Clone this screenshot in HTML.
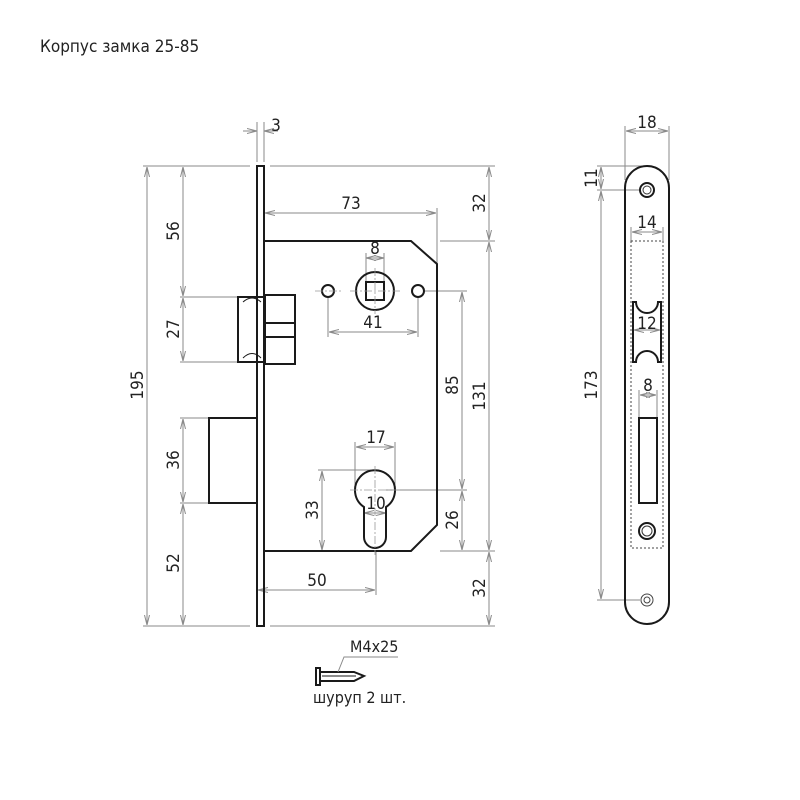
<!DOCTYPE html>
<html><head><meta charset="utf-8"><style>
html,body{margin:0;padding:0;background:#fff;}
svg{display:block;}
text{font-family:"DejaVu Sans Condensed","Liberation Sans",sans-serif;fill:#222;}
.d{stroke:#8a8a8a;stroke-width:1;fill:none;}
.o{stroke:#1a1a1a;stroke-width:2;fill:none;}
.c{stroke:#999;stroke-width:0.8;fill:none;stroke-dasharray:8 2 2 2;}
.t{font-size:17px;}
.m{text-anchor:middle;}
</style></head><body>
<svg width="800" height="800" viewBox="0 0 800 800" xmlns="http://www.w3.org/2000/svg">
<defs>
<marker id="a" viewBox="0 0 10 6" refX="10" refY="3" markerWidth="10" markerHeight="6" orient="auto-start-reverse" markerUnits="userSpaceOnUse"><path d="M0,0.5 L10,3 L0,5.5" fill="none" stroke="#8a8a8a" stroke-width="1"/></marker>
</defs>
<text x="40" y="52" style="font-size:17px">Корпус замка 25-85</text>

<g class="d">
<line x1="143" y1="166" x2="250" y2="166"/><line x1="270" y1="166" x2="495" y2="166"/>
<line x1="143" y1="626" x2="250" y2="626"/><line x1="270" y1="626" x2="495" y2="626"/>
<line x1="180" y1="297" x2="238" y2="297"/><line x1="180" y1="362" x2="238" y2="362"/>
<line x1="180" y1="418" x2="209" y2="418"/><line x1="180" y1="503" x2="209" y2="503"/>
<line x1="440" y1="241" x2="495" y2="241"/><line x1="440" y1="551" x2="495" y2="551"/>
<line x1="424" y1="291" x2="467" y2="291"/><line x1="386" y1="490" x2="467" y2="490"/>
<line x1="257" y1="122" x2="257" y2="162"/><line x1="264" y1="122" x2="264" y2="162"/>
<line x1="437" y1="208" x2="437" y2="264"/>
<line x1="366" y1="253" x2="366" y2="282"/><line x1="384" y1="253" x2="384" y2="282"/>
<line x1="328" y1="297" x2="328" y2="337"/><line x1="418" y1="297" x2="418" y2="337"/>
<line x1="355" y1="442" x2="355" y2="490"/><line x1="395" y1="442" x2="395" y2="490"/>
<line x1="318" y1="470" x2="375" y2="470"/><line x1="318" y1="551" x2="364" y2="551"/>
<line x1="376" y1="551" x2="376" y2="595"/>
<line x1="625" y1="126" x2="625" y2="180"/><line x1="669" y1="126" x2="669" y2="180"/>
<line x1="597" y1="166" x2="648" y2="166"/><line x1="597" y1="190" x2="640" y2="190"/><line x1="597" y1="600" x2="640" y2="600"/>
<line x1="631" y1="227" x2="631" y2="241"/><line x1="663" y1="227" x2="663" y2="241"/>
<line x1="639" y1="390" x2="639" y2="418"/><line x1="657" y1="390" x2="657" y2="418"/>
</g>
<g class="d" marker-start="url(#a)" marker-end="url(#a)">
<line x1="147" y1="167" x2="147" y2="625"/>
<line x1="183" y1="167" x2="183" y2="296"/><line x1="183" y1="298" x2="183" y2="361"/>
<line x1="183" y1="419" x2="183" y2="502"/><line x1="183" y1="504" x2="183" y2="625"/>
<line x1="489" y1="167" x2="489" y2="240"/><line x1="489" y1="242" x2="489" y2="550"/><line x1="489" y1="552" x2="489" y2="625"/>
<line x1="462" y1="292" x2="462" y2="489"/><line x1="462" y1="491" x2="462" y2="550"/>
<line x1="265" y1="213" x2="436" y2="213"/>
<line x1="366" y1="258" x2="384" y2="258"/>
<line x1="329" y1="332" x2="417" y2="332"/>
<line x1="356" y1="447" x2="394" y2="447"/>
<line x1="322" y1="471" x2="322" y2="550"/>
<line x1="364" y1="513" x2="386" y2="513"/>
<line x1="258" y1="590" x2="375" y2="590"/>
<line x1="626" y1="131" x2="668" y2="131"/>
<line x1="601" y1="167" x2="601" y2="189"/><line x1="601" y1="191" x2="601" y2="599"/>
<line x1="632" y1="232" x2="662" y2="232"/>
<line x1="634" y1="330" x2="660" y2="330"/>
<line x1="640" y1="395" x2="656" y2="395"/>
</g>
<g class="d" marker-end="url(#a)">
<line x1="243" y1="131" x2="257" y2="131"/><line x1="278" y1="131" x2="264" y2="131"/>
</g>

<g class="t m">
<text x="276" y="131">3</text>
<text x="351" y="209">73</text>
<text x="375" y="254">8</text>
<text x="373" y="328">41</text>
<text x="376" y="443">17</text>
<text x="376" y="509">10</text>
<text x="317" y="586">50</text>
<text transform="translate(143,385) rotate(-90)">195</text>
<text transform="translate(179,231) rotate(-90)">56</text>
<text transform="translate(179,329) rotate(-90)">27</text>
<text transform="translate(179,460) rotate(-90)">36</text>
<text transform="translate(179,563) rotate(-90)">52</text>
<text transform="translate(485,203) rotate(-90)">32</text>
<text transform="translate(485,396) rotate(-90)">131</text>
<text transform="translate(485,588) rotate(-90)">32</text>
<text transform="translate(458,385) rotate(-90)">85</text>
<text transform="translate(458,520) rotate(-90)">26</text>
<text transform="translate(318,510) rotate(-90)">33</text>
<text x="647" y="128">18</text>
<text transform="translate(597,178) rotate(-90)">11</text>
<text transform="translate(597,385) rotate(-90)">173</text>
<text x="647" y="228">14</text>
<text x="647" y="329">12</text>
<text x="648" y="391">8</text>
</g>

<rect x="257" y="166" width="7" height="460" class="o"/>
<path d="M264,241 L411,241 L437,264 L437,525 L411,551 L264,551" class="o"/>
<rect x="238" y="297" width="27" height="65" class="o"/>
<path d="M243,302 Q252,294 261,302 M243,358 Q252,349 261,358" stroke="#1a1a1a" stroke-width="1" fill="none"/>
<rect x="265" y="295" width="30" height="69" class="o" stroke-width="1.5"/>
<rect x="265" y="323" width="30" height="14" class="o"/>
<rect x="209" y="418" width="48" height="85" class="o"/>
<circle cx="375" cy="291" r="19" class="o"/>
<rect x="366" y="282" width="18" height="18" class="o"/>
<circle cx="328" cy="291" r="6" class="o"/>
<circle cx="418" cy="291" r="6" class="o"/>
<line x1="350" y1="291" x2="400" y2="291" class="c"/>
<line x1="375" y1="268" x2="375" y2="314" class="c"/>
<line x1="315" y1="291" x2="341" y2="291" class="c"/>
<path d="M364,507 A20,20 0 1 1 386,507 L386,537 A11,11 0 0 1 364,537 Z" class="o"/>
<line x1="375" y1="466" x2="375" y2="555" class="c"/>
<line x1="350" y1="490" x2="400" y2="490" class="c"/>

<rect x="625" y="166" width="44" height="458" rx="22" ry="22" class="o"/>
<rect x="631" y="241" width="32" height="307" fill="none" stroke="#444" stroke-width="1" stroke-dasharray="2 2"/>
<path d="M633,302 L636,302 A11,11 0 0 0 658,302 L661,302 L661,362 L658,362 A11,11 0 0 0 636,362 L633,362 Z" class="o" stroke-width="1.6"/>
<rect x="639" y="418" width="18" height="85" class="o" stroke-width="1.6"/>
<circle cx="647" cy="190" r="7" class="o" stroke-width="1.5"/><circle cx="647" cy="190" r="4" fill="none" stroke="#333" stroke-width="1"/>
<circle cx="647" cy="531" r="8" class="o" stroke-width="1.5"/><circle cx="647" cy="531" r="5" fill="none" stroke="#333" stroke-width="1"/>
<circle cx="647" cy="600" r="6" fill="none" stroke="#444" stroke-width="1"/><circle cx="647" cy="600" r="3" fill="none" stroke="#444" stroke-width="1"/>

<path d="M316,668 L316,685 L320,685 L320,668 Z M320,672 L354,672 L364,676 L354,681 L320,681" class="o" stroke-width="1.5"/>
<line x1="322" y1="676" x2="356" y2="676" stroke="#1a1a1a" stroke-width="1"/>
<polyline points="338,672 344,657 398,657" class="d"/>
<text x="350" y="652" style="font-size:16px">M4x25</text>
<text x="313" y="703" style="font-size:16px">шуруп 2 шт.</text>
</svg>
</body></html>
